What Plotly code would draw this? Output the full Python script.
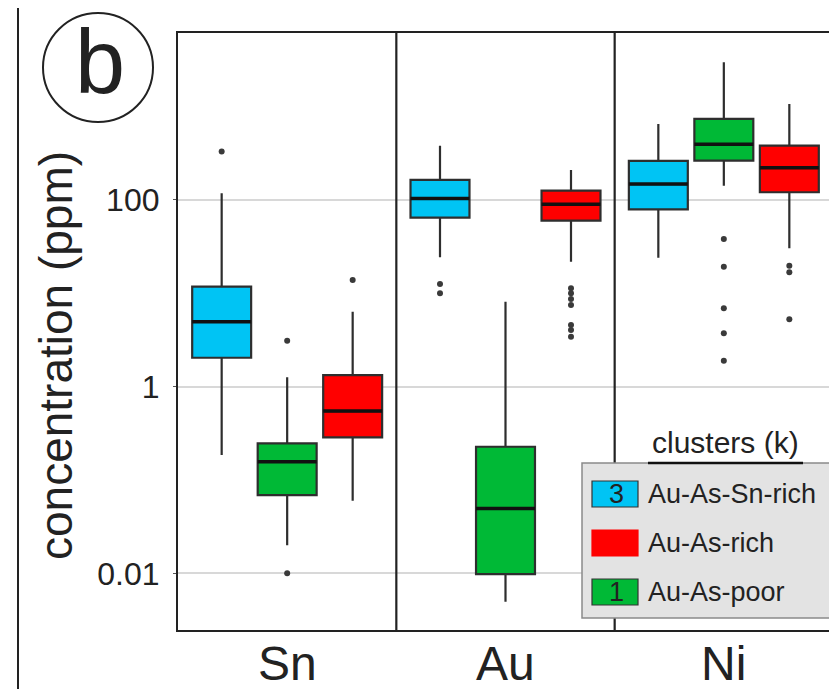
import plotly.graph_objects as go

# ---------------- data ----------------
elements = ["Sn", "Au", "Ni"]

cluster_names = ["Au-As-Sn-rich", "Au-As-poor", "Au-As-rich"]
cluster_colors = ["#00c4f4", "#00b936", "#ff0000"]
cluster_ids = ["3", "1", ""]
legend_order = [0, 2, 1]

# cluster 3: Au-As-Sn-rich (Sn, Au, Ni)
sn_rich_lower = [0.185, 24.3, 24.1]
sn_rich_q1 = [2.04, 64.6, 79.5]
sn_rich_median = [4.97, 104, 148]
sn_rich_q3 = [11.8, 164, 262]
sn_rich_upper = [118, 382, 653]
sn_rich_outliers = [[330], [12.6, 10.0], []]

# cluster 1: Au-As-poor
poor_lower = [0.020, 0.00495, 142]
poor_q1 = [0.0689, 0.0098, 264]
poor_median = [0.157, 0.0495, 395]
poor_q3 = [0.247, 0.227, 738]
poor_upper = [1.26, 8.1, 2990]
poor_outliers = [[3.1, 0.01], [], [38.2, 19.3, 6.9, 3.73, 1.9]]

# cluster 2: Au-As-rich
rich_lower = [0.060, 21.8, 30.4]
rich_q1 = [0.286, 60, 121]
rich_median = [0.548, 90, 222]
rich_q3 = [1.33, 126, 382]
rich_upper = [6.36, 210, 1069]
rich_outliers = [[13.9], [11.3, 10.0, 8.7, 7.5, 4.57, 4.05, 3.43], [19.8, 16.8, 5.26]]

y_tick_vals = [0.01, 1, 100]
y_tick_text = ["0.01", "1", "100"]
y_title = "concentration (ppm)"

stats = [
    (sn_rich_lower, sn_rich_q1, sn_rich_median, sn_rich_q3, sn_rich_upper, sn_rich_outliers),
    (poor_lower, poor_q1, poor_median, poor_q3, poor_upper, poor_outliers),
    (rich_lower, rich_q1, rich_median, rich_q3, rich_upper, rich_outliers),
]

FONT = "Liberation Sans, Arial, sans-serif"
BOXGAP = 0.1
GROUPGAP = 0.1

fig = go.Figure()
positions = list(range(len(elements)))
n = len(stats)
slot = (1 - BOXGAP) / n
half_box = slot * (1 - GROUPGAP) / 2

for k, (lo, q1, med, q3, up, outs) in enumerate(stats):
    fig.add_trace(go.Box(
        x=positions, lowerfence=lo, q1=q1, median=med, q3=q3, upperfence=up,
        name=cluster_names[k], fillcolor=cluster_colors[k],
        line=dict(color="#2e2e2e", width=2.2), whiskerwidth=0,
        boxpoints=False, showlegend=False, hoverinfo="skip",
    ))
    off = (k - (n - 1) / 2) * slot
    # thick black median bars (as in the reference)
    mx, my = [], []
    for i, m in enumerate(med):
        mx += [positions[i] + off - half_box, positions[i] + off + half_box, None]
        my += [m, m, None]
    fig.add_trace(go.Scatter(
        x=mx, y=my, mode="lines", showlegend=False,
        line=dict(color="#111", width=3.5), hoverinfo="skip",
    ))
    ox, oy = [], []
    for i, vals in enumerate(outs):
        for v in vals:
            ox.append(positions[i] + off)
            oy.append(v)
    fig.add_trace(go.Scatter(
        x=ox, y=oy, mode="markers", showlegend=False,
        marker=dict(color="#3a3a3a", size=6), hoverinfo="skip",
    ))

# page body has an 8px margin: work in screenshot pixels, convert to figure
OFF = 8
W, H = 837 - OFF, 689 - OFF
PL, PR, PT, PB = 178, 833, 33, 630          # plot area in screenshot pixels
L, R, T, B = PL - OFF, W - (PR - OFF), PT - OFF, H - (PB - OFF)
pw, ph = W - L - R, H - T - B

def px_x(x):
    return (x - OFF - L) / pw

def px_y(y):
    return (H - B - (y - OFF)) / ph

shapes = [
    # panel dividers
    dict(type="line", xref="x", yref="paper", x0=0.5, x1=0.5, y0=0, y1=1,
         line=dict(color="#222", width=2.2)),
    dict(type="line", xref="x", yref="paper", x0=1.5, x1=1.5, y0=0, y1=1,
         line=dict(color="#222", width=2.2)),
    # outer frame
    dict(type="rect", xref="paper", yref="paper", x0=px_x(18), x1=px_x(836),
         y0=px_y(720), y1=px_y(2), line=dict(color="#222", width=2)),
    # circle around "b"
    dict(type="circle", xref="paper", yref="paper", x0=px_x(43), x1=px_x(153),
         y0=px_y(122), y1=px_y(13), line=dict(color="#222", width=2)),
    # legend box
    dict(type="rect", xref="paper", yref="paper", x0=px_x(582), x1=px_x(832),
         y0=px_y(618), y1=px_y(463), fillcolor="#e3e3e3",
         line=dict(color="#8a8a8a", width=1.5), layer="above"),
    # underline of legend title
    dict(type="line", xref="paper", yref="paper", x0=px_x(648), x1=px_x(803),
         y0=px_y(463), y1=px_y(463), line=dict(color="#111", width=2.5), layer="above"),
]

annotations = [
    dict(text="b", xref="paper", yref="paper", x=px_x(100), y=px_y(62),
         showarrow=False, font=dict(family=FONT, size=90, color="#222"),
         xanchor="center", yanchor="middle"),
    dict(text=y_title, xref="paper", yref="paper", x=px_x(56), y=px_y(356),
         textangle=-90, showarrow=False, font=dict(family=FONT, size=46, color="#222"),
         xanchor="center", yanchor="middle"),
    dict(text="clusters (k)", xref="paper", yref="paper", x=px_x(725), y=px_y(442),
         showarrow=False, font=dict(family=FONT, size=30, color="#222"),
         xanchor="center", yanchor="middle"),
]

# legend entries (swatch + label), rows in screenshot pixels
row_y = [494, 543, 592]
for r, k in enumerate(legend_order):
    yc = row_y[r]
    shapes.append(dict(
        type="rect", xref="paper", yref="paper", x0=px_x(592), x1=px_x(638),
        y0=px_y(yc + 13), y1=px_y(yc - 13), fillcolor=cluster_colors[k],
        line=dict(color="#333" if cluster_ids[k] else cluster_colors[k], width=1.2),
        layer="above"))
    annotations.append(dict(
        text=cluster_names[k], xref="paper", yref="paper", x=px_x(646), y=px_y(yc),
        showarrow=False, font=dict(family=FONT, size=27, color="#222"),
        xanchor="left", yanchor="middle"))
    if cluster_ids[k]:
        annotations.append(dict(
            text=cluster_ids[k], xref="paper", yref="paper", x=px_x(616), y=px_y(yc),
            showarrow=False, font=dict(family=FONT, size=27, color="#222"),
            xanchor="center", yanchor="middle"))

# element labels below each panel
for i, el in enumerate(elements):
    annotations.append(dict(
        text=el, xref="x", yref="paper", x=positions[i], y=px_y(663),
        showarrow=False, font=dict(family=FONT, size=48, color="#222"),
        xanchor="center", yanchor="middle"))

fig.update_layout(
    width=W, height=H,
    margin=dict(l=L, r=R, t=T, b=B, pad=0, autoexpand=False),
    paper_bgcolor="white", plot_bgcolor="white",
    boxmode="group", boxgap=BOXGAP, boxgroupgap=GROUPGAP,
    font=dict(family=FONT, color="#222"),
    shapes=shapes, annotations=annotations,
    showlegend=False,
    xaxis=dict(
        range=[-0.5, 2.5], tickvals=positions, showticklabels=False,
        showgrid=False, zeroline=False, showline=True, mirror=True,
        linecolor="#222", linewidth=2.2, ticks="", automargin=False,
    ),
    yaxis=dict(
        type="log", range=[-2.607, 3.789],
        tickvals=y_tick_vals, ticktext=y_tick_text,
        tickfont=dict(size=32, family=FONT, color="#222"),
        showgrid=True, gridcolor="#d8d8d8", gridwidth=1.5,
        zeroline=False, showline=True, mirror=True,
        linecolor="#222", linewidth=2.2, ticks="outside", ticklen=3,
        tickcolor="#555", automargin=False, ticklabelstandoff=7,
    ),
)

fig.write_html("out.html")
